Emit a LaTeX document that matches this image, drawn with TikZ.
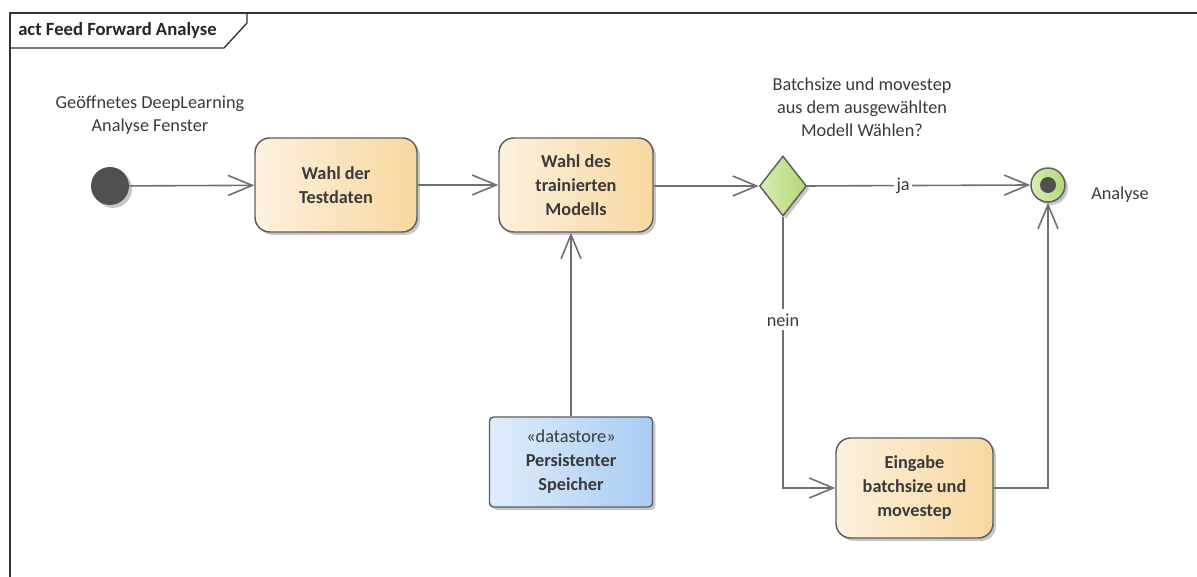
\documentclass[tikz,border=0pt]{standalone}
\usepackage{fontspec}
\setmainfont{Carlito}
\usetikzlibrary{arrows.meta,shapes.geometric,shadows,calc}
\definecolor{linegray}{HTML}{707070}
\definecolor{bordergray}{HTML}{5E5E5E}
\definecolor{txt}{HTML}{3A3A3A}
\definecolor{actL}{HTML}{FDF1DE}
\definecolor{actR}{HTML}{F8D8A0}
\definecolor{dsL}{HTML}{DFEDFC}
\definecolor{dsR}{HTML}{A9CCF3}
\definecolor{grL}{HTML}{D9EDB6}
\definecolor{grR}{HTML}{B3D876}
\definecolor{dot}{HTML}{505050}
\tikzset{
  shade/.style={drop shadow={shadow xshift=2.2pt,shadow yshift=-2.2pt,opacity=0.22,fill=black}},
  action/.style={shade,draw=bordergray,line width=1.1pt,rounded corners=11pt,
    left color=actL,right color=actR,align=center,text=txt,
    font=\fontsize{13.7}{18}\selectfont\bfseries,inner sep=0pt},
  datastorebox/.style={shade,draw=bordergray,line width=1.1pt,rounded corners=3pt,
    left color=dsL,right color=dsR,align=center,text=txt,
    font=\fontsize{13.7}{18}\selectfont,inner sep=0pt},
  decision/.style={shade,diamond,draw=bordergray,line width=1.1pt,
    left color=grL,right color=grR,inner sep=0pt,aspect=0.78},
  flow/.style={draw=linegray,line width=1.2pt,
    -{Straight Barb[length=18pt,width=15pt,line width=1.2pt]}},
  lbl/.style={text=txt,font=\fontsize{13.7}{17.3}\selectfont,align=center,inner sep=0pt},
}
\begin{document}
\begin{tikzpicture}[x=0.75pt,y=0.75pt]
\useasboundingbox (0,0) rectangle (1197,577);
% diagram frame and its name tab
\draw[line width=1.2pt,draw=black!80] (10,0) -- (10,564) -- (1197,564);
\draw[line width=1pt,draw=black!80] (10,529) -- (224,529) -- (247,554) -- (247,564);
\node[anchor=west,text=black!85,font=\fontsize{14}{16}\selectfont\bfseries,inner sep=0pt]
  (title) at (18,547) {act Feed Forward Analyse};

% initial and final nodes
\node[shade,circle,fill=dot,minimum size=28.5pt,inner sep=0pt] (init) at (110,391) {};
\node[shade,circle,draw=bordergray,line width=1.1pt,left color=grL,right color=grR,
  minimum size=25.5pt,inner sep=0pt] (fin) at (1048,392) {};
\fill[dot] (fin.center) circle (6pt);

% actions
\node[action,minimum width=121.5pt,minimum height=70.5pt] (testdaten) at (336,392)
  {Wahl der\\Testdaten};
\node[action,minimum width=115.5pt,minimum height=70.5pt] (modell) at (576,392)
  {Wahl des\\trainierten\\Modells};
\node[action,minimum width=117.75pt,minimum height=75pt] (eingabe) at (914.5,89)
  {Eingabe\\batchsize und\\movestep};
\node[datastorebox,minimum width=122.25pt,minimum height=67.5pt] (speicher) at (571,115)
  {«datastore»\\\textbf{Persistenter}\\\textbf{Speicher}};

% decision
\node[decision,minimum width=35.25pt,minimum height=45pt] (wahl) at (783,391) {};

% labels
\node[lbl] (startlbl) at (150,462) {Geöffnetes DeepLearning\\Analyse Fenster};
\node[lbl] (frage) at (862,470) {Batchsize und movestep\\aus dem ausgewählten\\Modell Wählen?};
\node[lbl,anchor=west] (endlbl) at (1091,382) {Analyse};

% control flows
\draw[flow] (init) -- (testdaten);
\draw[flow] (testdaten) -- (modell);
\draw[flow] (modell.east |- wahl.west) -- (wahl.west);
\draw[flow] (wahl.east) -- node[lbl,pos=0.43,fill=white,inner xsep=2pt,inner ysep=1pt] (ja) {ja} (fin.west);
\draw[flow] (speicher.north) -- (speicher.north |- modell.south);
\draw[flow] (wahl.south) |- node[lbl,pos=0.19,fill=white,inner ysep=3pt] (nein) {nein} (eingabe.west);
\draw[flow] (eingabe.east) -| (fin.south);
\end{tikzpicture}
\end{document}
